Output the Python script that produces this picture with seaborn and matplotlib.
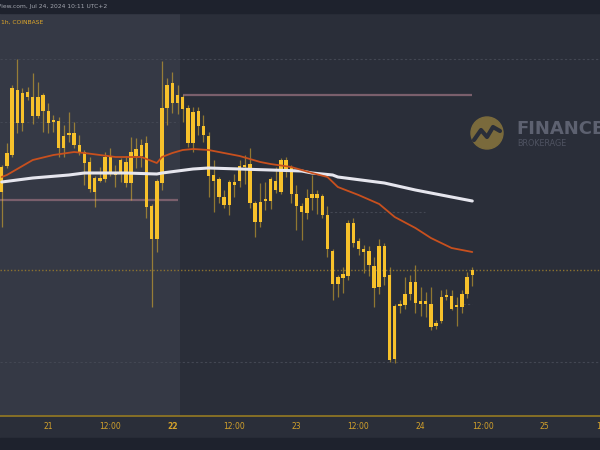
import numpy as np
import pandas as pd
import seaborn as sns
import matplotlib.pyplot as plt
from matplotlib.patches import Rectangle, Circle

# hourly candles, BTC/USD 1h (Coinbase), first candle = Jul 20 15:00
opens = [66780, 67040, 67150, 67800, 67470, 67780, 67730, 67540, 67750, 67590,
         67480, 67490, 67220, 67350, 67370, 67250, 67180, 67080, 66780, 66920,
         66910, 67130, 66970, 66970, 67080, 66870, 67140, 67140, 67270, 66640,
         66310, 66870, 67620, 67870, 67670, 67730, 67620, 67270, 67590, 67440,
         67340, 66950, 66910, 66730, 66650, 66850, 66890, 67030, 67060, 66670,
         66480, 66690, 66690, 66890, 66780, 67100, 67030, 66760, 66640, 66570,
         66720, 66760, 66740, 66550, 66190, 65860, 65920, 65940, 66470, 66290,
         66210, 66190, 66040, 65830, 66240, 65950, 65110, 65640, 65650, 65760,
         65880, 65660, 65690, 65660, 65440, 65490, 65730, 65740, 65630, 65630,
         65760, 65950]
closes = [67030, 67170, 67820, 67470, 67770, 67730, 67540, 67730, 67590, 67470,
          67490, 67220, 67340, 67370, 67250, 67170, 67070, 66810, 66920, 66890,
          67130, 66970, 66950, 67100, 66870, 67180, 67210, 67250, 66630, 66310,
          66890, 67620, 67850, 67670, 67750, 67610, 67270, 67580, 67440, 67350,
          66940, 66890, 66730, 66650, 66880, 66880, 67040, 67050, 66670, 66480,
          66680, 66710, 66910, 66800, 67100, 67010, 66760, 66640, 66580, 66720,
          66760, 66720, 66550, 66210, 65860, 65930, 65960, 66470, 66270, 66210,
          66180, 66050, 65820, 66240, 65930, 65100, 65640, 65660, 65760, 65880,
          65670, 65690, 65660, 65430, 65470, 65730, 65740, 65610, 65640, 65760,
          65930, 66000]
highs = [67050, 67270, 67850, 68110, 67820, 67830, 67970, 67880, 67770, 67670,
         67550, 67530, 67450, 67580, 67480, 67350, 67200, 67130, 66940, 67030,
         67180, 67220, 67050, 67120, 67140, 67330, 67320, 67310, 67340, 66660,
         66910, 68090, 67920, 67980, 67850, 67750, 67650, 67630, 67630, 67550,
         67380, 67100, 66930, 66800, 66900, 66960, 67100, 67150, 67220, 66690,
         66870, 66880, 66930, 67030, 67120, 67130, 67050, 66850, 66670, 66810,
         66950, 66800, 66760, 66640, 66210, 65950, 66030, 66500, 66520, 66320,
         66250, 66240, 66130, 66310, 66270, 66030, 65660, 65700, 65930, 65950,
         66050, 65830, 65780, 65830, 65500, 65800, 65810, 65800, 65730, 65800,
         65980, 66030]
lows = [66430, 67020, 67130, 67370, 67390, 67700, 67460, 67520, 67380, 67370,
        67380, 67130, 67130, 67280, 67220, 67150, 66850, 66780, 66630, 66880,
        66880, 66940, 66830, 66880, 66830, 66700, 67020, 67030, 66520, 65630,
        66180, 66800, 67450, 67570, 67560, 67480, 67230, 67180, 67350, 67280,
        66730, 66580, 66670, 66620, 66550, 66730, 66830, 66860, 66620, 66330,
        66430, 66600, 66610, 66770, 66760, 66930, 66670, 66400, 66300, 66510,
        66600, 66560, 66520, 66130, 65700, 65730, 65770, 65900, 66230, 66150,
        65970, 65940, 65630, 65760, 65850, 65080, 65070, 65570, 65610, 65700,
        65570, 65540, 65530, 65400, 65410, 65470, 65700, 65600, 65440, 65570,
        65720, 65840]

# moving averages (candle index, price)
ema_idx = [0, 1, 6, 10, 14, 16, 19, 22, 27, 30, 31, 33, 35, 37, 40, 43, 46, 50,
           52, 56, 60, 63, 65, 69, 73, 76, 80, 83, 87, 91]
ema_val = [66930, 66950, 67100, 67150, 67180, 67170, 67150, 67130, 67130, 67070,
           67130, 67170, 67200, 67210, 67200, 67170, 67140, 67080, 67060, 67030,
           66970, 66930, 66830, 66750, 66660, 66530, 66420, 66320, 66220, 66180]
sma_idx = [0, 6, 13, 16, 24, 30, 31, 34, 37, 40, 52, 58, 60, 64, 65, 74, 80, 87, 91]
sma_val = [66880, 66920, 66950, 66970, 66970, 66960, 66970, 66990, 67010, 67020,
           67000, 66990, 66970, 66950, 66930, 66870, 66800, 66730, 66690]

# x axis: hours since first candle
tick_hours = [9, 21, 33, 45, 57, 69, 81, 93, 105, 117]
tick_labels = ["21", "12:00", "22", "12:00", "23", "12:00", "24", "12:00", "25", "12:00"]

BG = "#2a2e39"
SHADE = "#353945"
DARK = "#1e222d"
YELLOW = "#f7c12b"

sns.set_theme(style="dark", rc={"axes.facecolor": BG, "figure.facecolor": BG})
plt.rcParams["font.family"] = ["DejaVu Sans"]

fig = plt.figure(figsize=(6, 4.5), dpi=100)
ax = fig.add_axes([0, 34 / 450, 1, 403 / 450])
ax.set_xlim(-0.33, 115.7)
ax.set_ylim(64540, 68570)

ax.axvspan(-0.33, 34.5, color=SHADE, lw=0, zorder=0)

# levels / grid
grid_kw = dict(color="#434753", lw=0.8, ls=(0, (2, 2)), zorder=1)
ax.axhline(68110, **grid_kw)
ax.axhline(65080, **grid_kw)
ax.hlines(67480, -0.33, 34.1, **grid_kw)
ax.hlines(66580, 63.5, 81.9, **grid_kw)
ax.hlines(65660, 89.2, 91, **grid_kw)
ax.hlines(67750, 35.1, 91, color="#7a5f6c", lw=1.6, zorder=1)
ax.hlines(66700, -0.33, 34.1, color="#7a5f6c", lw=1.6, zorder=1)
ax.axhline(66000, color="#8c7230", lw=1, ls=(0, (1, 1.5)), zorder=1)

# overlay in pixel coords: header/footer bars, watermark, header texts
ax_w = fig.add_axes([0, 0, 1, 1], facecolor="none")
ax_w.set_xlim(0, 600)
ax_w.set_ylim(450, 0)
ax_w.axis("off")
ax_w.add_patch(Rectangle((0, 0), 600, 13, color=DARK, zorder=0))
ax_w.add_patch(Rectangle((0, 438), 600, 12, color=DARK, zorder=0))
ax_w.add_patch(Circle((487, 133), 16, color="#7a6a3c", zorder=1))
ax_w.plot([474, 481, 487, 493, 500], [140, 130, 137, 127, 131], color=BG, lw=3,
          solid_capstyle="round", zorder=2)
ax_w.text(516, 129, "FINANCE", color="#5d6170", fontsize=13, fontweight="bold",
          va="center", ha="left")
ax_w.text(517, 143.5, "BROKERAGE", color="#4f5361", fontsize=5.8, va="center", ha="left")
ax_w.text(107, 6.5, "TradingView.com, Jul 24, 2024 10:11 UTC+2", color="#a3a6af",
          fontsize=4.3, va="center", ha="right", zorder=3)
ax_w.text(1, 22, "1h, COINBASE", color="#e0a82a", fontsize=4.3, va="center", ha="left")

# candles
df = pd.DataFrame({"o": opens, "h": highs, "l": lows, "c": closes})
df["idx"] = np.arange(len(df))
body_lo = df[["o", "c"]].min(axis=1)
body_h = (df["o"] - df["c"]).abs().clip(lower=18)
ax.vlines(df["idx"], df["l"], df["h"], color=YELLOW, alpha=0.5, lw=0.9, zorder=3)
ax.bar(df["idx"], body_h, bottom=body_lo, width=0.66, color=YELLOW, lw=0, zorder=4)

# moving averages
sns.lineplot(x=sma_idx, y=sma_val, ax=ax, color="#e6e6ee", lw=2.2, zorder=5)
sns.lineplot(x=ema_idx, y=ema_val, ax=ax, color="#c8501e", lw=1.3, zorder=5)

ax.set_xticks([])
ax.set_yticks([])
ax.set_xlabel("")
ax.set_ylabel("")
for s in ["top", "left", "right"]:
    ax.spines[s].set_visible(False)
ax.spines["bottom"].set_color("#8d7424")
ax.spines["bottom"].set_linewidth(1.3)

for hr, lab in zip(tick_hours, tick_labels):
    ax.text(hr, -0.025, lab, transform=ax.get_xaxis_transform(), color="#d4a22b",
            fontsize=5.5, ha="center", va="center", clip_on=False,
            fontweight="bold" if lab == "22" else "normal")

fig.savefig("out.png", dpi=100, facecolor=BG)
